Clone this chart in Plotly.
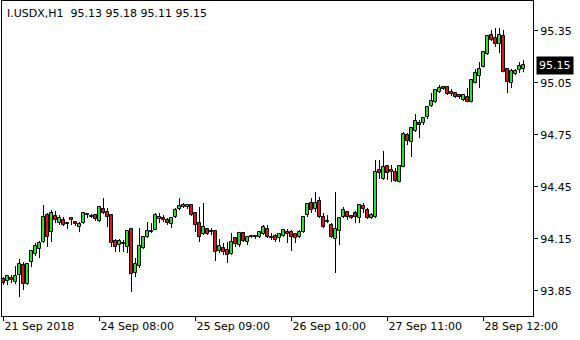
import plotly.graph_objects as go

symbol = "I.USDX,H1"
ohlc_text = "95.13 95.18 95.11 95.15"
last_price = 95.15

tick_idx = [0, 24, 48, 72, 96, 120]
tick_text = ["21 Sep 2018", "24 Sep 08:00", "25 Sep 09:00", "26 Sep 10:00", "27 Sep 11:00", "28 Sep 12:00"]
price_ticks = [93.85, 94.15, 94.45, 94.75, 95.05, 95.35]

opens = [93.917, 93.906, 93.923, 93.900, 93.940, 93.998, 93.888, 94.015, 94.061, 94.090,
         94.131, 94.286, 94.188, 94.281, 94.240, 94.258, 94.240, 94.269, 94.246, 94.217,
         94.240, 94.286, 94.275, 94.286, 94.252, 94.321, 94.304, 94.286, 94.137, 94.113,
         94.125, 94.102, 94.206, 93.952, 93.992, 94.096, 94.160, 94.188, 94.200, 94.263,
         94.269, 94.258, 94.235, 94.275, 94.321, 94.333, 94.333, 94.344, 94.298, 94.240,
         94.177, 94.206, 94.194, 94.194, 94.079, 94.096, 94.085, 94.061, 94.154, 94.113,
         94.183, 94.131, 94.160, 94.160, 94.160, 94.177, 94.206, 94.160, 94.165, 94.154,
         94.165, 94.188, 94.188, 94.177, 94.160, 94.188, 94.286, 94.356, 94.321, 94.367,
         94.275, 94.252, 94.229, 94.148, 94.194, 94.275, 94.304, 94.275, 94.298, 94.269,
         94.338, 94.315, 94.269, 94.275, 94.546, 94.494, 94.569, 94.546, 94.535, 94.477,
         94.563, 94.748, 94.708, 94.771, 94.817, 94.817, 94.852, 94.915, 94.938, 94.996,
         95.025, 95.025, 94.996, 94.990, 94.979, 94.950, 94.967, 94.938, 95.048, 95.088,
         95.140, 95.215, 95.325, 95.308, 95.273, 95.319, 95.129, 95.048, 95.100, 95.123,
         95.130]
highs = [93.929, 93.940, 93.940, 93.992, 94.033, 94.015, 94.010, 94.085, 94.125, 94.137,
         94.344, 94.298, 94.315, 94.310, 94.286, 94.275, 94.246, 94.275, 94.252, 94.246,
         94.304, 94.298, 94.292, 94.288, 94.338, 94.384, 94.327, 94.292, 94.148, 94.148,
         94.142, 94.200, 94.211, 94.038, 94.211, 94.165, 94.246, 94.240, 94.298, 94.298,
         94.286, 94.269, 94.275, 94.327, 94.384, 94.356, 94.350, 94.350, 94.304, 94.333,
         94.356, 94.211, 94.211, 94.200, 94.148, 94.125, 94.131, 94.183, 94.160, 94.188,
         94.188, 94.165, 94.171, 94.171, 94.194, 94.229, 94.229, 94.183, 94.177, 94.183,
         94.206, 94.206, 94.200, 94.183, 94.200, 94.281, 94.356, 94.384, 94.419, 94.390,
         94.298, 94.286, 94.240, 94.419, 94.275, 94.333, 94.310, 94.286, 94.310, 94.350,
         94.356, 94.327, 94.298, 94.604, 94.604, 94.656, 94.575, 94.575, 94.558, 94.575,
         94.765, 94.760, 94.794, 94.869, 94.835, 94.852, 94.915, 94.990, 95.013, 95.037,
         95.031, 95.027, 95.013, 94.996, 94.985, 94.985, 95.019, 95.071, 95.129, 95.169,
         95.233, 95.325, 95.354, 95.365, 95.365, 95.354, 95.135, 95.129, 95.129, 95.169,
         95.180]
lows = [93.883, 93.883, 93.894, 93.888, 93.813, 93.854, 93.883, 93.986, 94.050, 94.038,
        94.125, 94.102, 94.131, 94.240, 94.229, 94.223, 94.206, 94.229, 94.223, 94.188,
        94.235, 94.269, 94.269, 94.252, 94.246, 94.292, 94.217, 94.102, 94.073, 94.073,
        94.073, 94.067, 93.842, 93.929, 93.981, 94.090, 94.154, 94.183, 94.198, 94.240,
        94.246, 94.229, 94.211, 94.269, 94.315, 94.327, 94.321, 94.281, 94.188, 94.131,
        94.171, 94.171, 94.171, 94.021, 94.067, 94.056, 94.010, 94.056, 94.102, 94.102,
        94.131, 94.113, 94.154, 94.148, 94.154, 94.171, 94.154, 94.142, 94.131, 94.131,
        94.160, 94.125, 94.079, 94.125, 94.154, 94.183, 94.275, 94.298, 94.304, 94.269,
        94.211, 94.240, 94.154, 93.952, 94.113, 94.269, 94.258, 94.263, 94.240, 94.240,
        94.298, 94.263, 94.263, 94.269, 94.494, 94.488, 94.488, 94.477, 94.477, 94.475,
        94.561, 94.690, 94.621, 94.765, 94.731, 94.806, 94.840, 94.910, 94.933, 94.990,
        95.008, 94.979, 94.973, 94.962, 94.956, 94.944, 94.936, 94.936, 95.046, 95.019,
        95.138, 95.210, 95.290, 95.256, 95.221, 95.110, 94.990, 95.019, 95.094, 95.106,
        95.110]
closes = [93.894, 93.935, 93.911, 93.935, 94.004, 93.888, 94.004, 94.079, 94.108, 94.125,
          94.275, 94.160, 94.298, 94.258, 94.269, 94.229, 94.235, 94.258, 94.235, 94.235,
          94.298, 94.292, 94.277, 94.263, 94.333, 94.298, 94.275, 94.125, 94.102, 94.137,
          94.119, 94.194, 93.946, 94.004, 94.108, 94.160, 94.194, 94.194, 94.286, 94.275,
          94.258, 94.240, 94.269, 94.315, 94.338, 94.344, 94.344, 94.286, 94.229, 94.160,
          94.217, 94.177, 94.188, 94.073, 94.108, 94.073, 94.056, 94.131, 94.119, 94.183,
          94.137, 94.160, 94.165, 94.165, 94.188, 94.217, 94.160, 94.154, 94.142, 94.177,
          94.200, 94.177, 94.160, 94.154, 94.188, 94.275, 94.350, 94.315, 94.356, 94.275,
          94.217, 94.246, 94.160, 94.206, 94.269, 94.315, 94.275, 94.272, 94.275, 94.344,
          94.321, 94.269, 94.286, 94.535, 94.529, 94.563, 94.529, 94.535, 94.483, 94.569,
          94.754, 94.713, 94.788, 94.829, 94.806, 94.846, 94.910, 94.944, 95.008, 95.019,
          95.013, 94.985, 94.985, 94.967, 94.967, 94.979, 94.938, 95.065, 95.106, 95.129,
          95.227, 95.319, 95.296, 95.273, 95.325, 95.112, 95.054, 95.117, 95.117, 95.146,
          95.150]

FONT = "DejaVu Sans"
GREEN = "#22E622"
RED = "#E01414"
MIN_BODY = 0.006

n = len(opens)
x = list(range(n))
body_lo = [min(o, c) for o, c in zip(opens, closes)]
body_hi = [max(o, c) for o, c in zip(opens, closes)]
body_h = [max(h - l, MIN_BODY) for h, l in zip(body_hi, body_lo)]
colors = [GREEN if c >= o else RED for o, c in zip(opens, closes)]

# wick segments (upper and lower, so they don't cross the body fill)
wx, wy = [], []
for i in range(n):
    wx += [x[i], x[i], None, x[i], x[i], None]
    wy += [highs[i], body_hi[i], None, body_lo[i], lows[i], None]

fig = go.Figure()
fig.add_trace(go.Bar(
    x=x, y=body_h, base=body_lo, width=0.75,
    marker=dict(color=colors, line=dict(color="black", width=1)),
    hoverinfo="skip",
))
fig.add_trace(go.Scatter(
    x=wx, y=wy, mode="lines", line=dict(color="black", width=1),
    hoverinfo="skip", connectgaps=False,
))

fig.update_layout(
    width=580, height=340,
    margin=dict(l=2, r=47, t=1, b=24),
    paper_bgcolor="white", plot_bgcolor="white",
    showlegend=False,
    bargap=0, bargroupgap=0,
    font=dict(family=FONT, size=11, color="black"),
    xaxis=dict(
        range=[-0.375, 132.375],
        showgrid=False, zeroline=False,
        showline=True, mirror=True, linecolor="black", linewidth=1,
        tickmode="array", tickvals=tick_idx, ticktext=tick_text,
        ticks="outside", ticklen=4, tickcolor="black",
        ticklabelposition="outside right",
        tickfont=dict(family=FONT, size=11, color="black"),
        fixedrange=True,
    ),
    yaxis=dict(
        range=[93.704, 95.521], side="right",
        showgrid=False, zeroline=False,
        showline=True, mirror=True, linecolor="black", linewidth=1,
        tickmode="array", tickvals=price_ticks,
        ticktext=[f"{v:.2f}" for v in price_ticks],
        ticks="outside", ticklen=4, tickcolor="black",
        tickfont=dict(family=FONT, size=11, color="black"),
        fixedrange=True,
    ),
)

fig.add_annotation(
    xref="paper", yref="paper", x=0, y=1, xanchor="left", yanchor="top",
    xshift=3, yshift=-4, showarrow=False,
    text=f"{symbol}&nbsp;&nbsp;{ohlc_text}",
    font=dict(family=FONT, size=11, color="black"),
)
fig.add_annotation(
    xref="paper", yref="y", x=1, y=last_price, xanchor="left", yanchor="middle",
    xshift=3, showarrow=False, text=f"{last_price:.2f}",
    bgcolor="black", borderpad=2,
    font=dict(family=FONT, size=11, color="white"),
)

fig.write_html("out.html")
